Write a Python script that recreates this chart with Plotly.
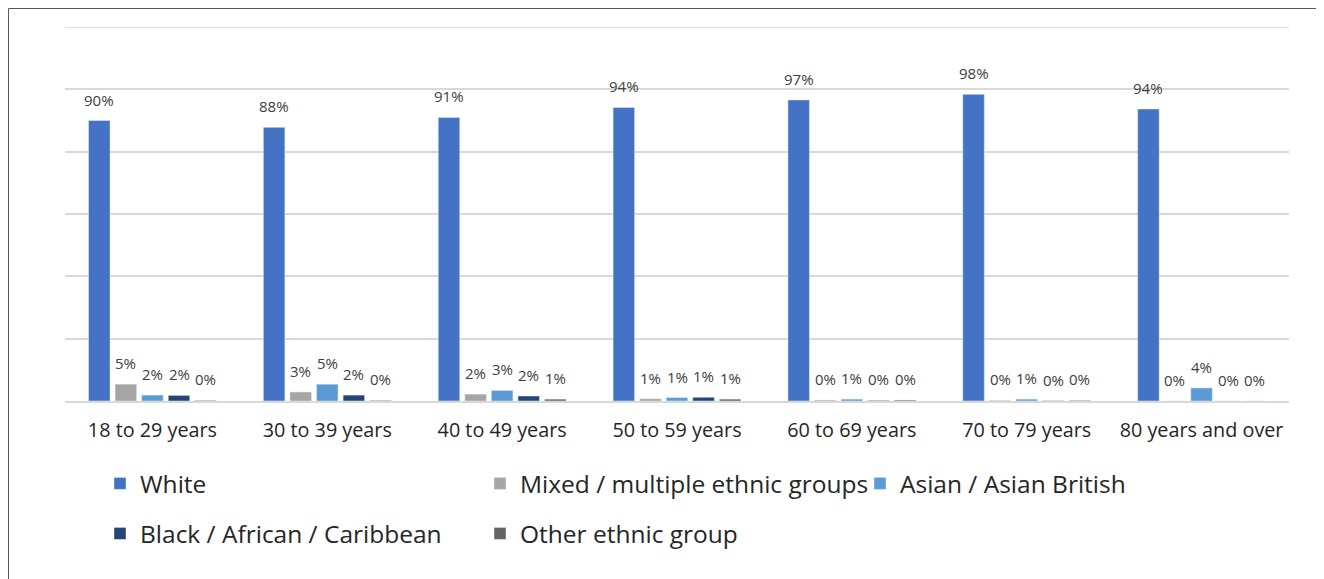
import plotly.graph_objects as go

categories = ["18 to 29 years", "30 to 39 years", "40 to 49 years", "50 to 59 years",
              "60 to 69 years", "70 to 79 years", "80 years and over"]
white = [0.900, 0.878, 0.910, 0.942, 0.966, 0.984, 0.937]
mixed = [0.054, 0.029, 0.022, 0.007, 0.003, 0.002, 0.000]
asian = [0.019, 0.054, 0.034, 0.011, 0.006, 0.006, 0.042]
black = [0.018, 0.019, 0.016, 0.012, 0.002, 0.001, 0.000]
other = [0.002, 0.002, 0.006, 0.006, 0.003, 0.002, 0.000]
y_max = 1.2
y_step = 0.2

series = [
    ("White", white, "#4472C4", "legend"),
    ("Mixed / multiple ethnic groups", mixed, "#A5A5A5", "legend"),
    ("Asian / Asian British", asian, "#5B9BD5", "legend"),
    ("Black / African / Caribbean", black, "#264478", "legend2"),
    ("Other ethnic group", other, "#636363", "legend2"),
]

FONT = "Open Sans"
OFF = 8  # default page body margin
W, H = 1316, 571
ML, MR, MT, MB = 57, 35, 19, 178
BARGAP = 0.24
n = len(series)
slot = (1 - BARGAP) / n
GRID = "#D9D9D9"
FRAME = "#595959"

fig = go.Figure()
annotations = []
for i, (name, vals, color, lg) in enumerate(series):
    fig.add_trace(go.Bar(x=categories, y=vals, name=name, marker_color=color,
                         legend=lg, hoverinfo="skip"))
    for j, v in enumerate(vals):
        annotations.append(dict(
            x=j + (i - (n - 1) / 2) * slot, y=v, xref="x", yref="y",
            text=f"{v:.0%}", showarrow=False, yanchor="middle", yshift=21,
            font=dict(family=FONT, size=15, color="#404040")))

pw = W - ML - MR
ph = H - MT - MB
def px_x(p):  # page pixel -> paper
    return (p - OFF - ML) / pw
def px_y(p):
    return (H - MB - (p - OFF)) / ph

legend_common = dict(orientation="h", xanchor="left", yanchor="top",
                     entrywidth=335, entrywidthmode="pixels",
                     font=dict(family=FONT, size=24.5, color="#262626"),
                     bgcolor="rgba(0,0,0,0)")

fig.update_layout(
    width=W, height=H,
    margin=dict(l=ML, r=MR, t=MT, b=MB, autoexpand=False),
    paper_bgcolor="white", plot_bgcolor="white",
    barmode="group", bargap=BARGAP, bargroupgap=0.19,
    font=dict(family=FONT, color="#262626"),
    xaxis=dict(showgrid=False, showline=True, linecolor=GRID, linewidth=1.5,
               ticks="", ticklabelstandoff=10,
               tickfont=dict(size=19.8, color="#262626"), fixedrange=True),
    yaxis=dict(range=[0, y_max], tick0=0, dtick=y_step, showgrid=True, gridcolor=GRID,
               gridwidth=1.5, showticklabels=False, zeroline=False, ticks="",
               fixedrange=True),
    legend=dict(x=px_x(100), y=px_y(461), **legend_common),
    legend2=dict(x=px_x(100), y=px_y(511), **legend_common),
    annotations=annotations,
    shapes=[
        dict(type="line", xref="paper", yref="y", x0=0, x1=1, y0=y_max, y1=y_max,
             line=dict(color=GRID, width=1.5), layer="below"),
        dict(type="line", xref="paper", yref="paper",
             x0=px_x(8.5), x1=px_x(1330), y0=px_y(8.5), y1=px_y(8.5),
             line=dict(color=FRAME, width=1)),
        dict(type="line", xref="paper", yref="paper",
             x0=px_x(8.5), x1=px_x(8.5), y0=px_y(8.5), y1=px_y(590),
             line=dict(color=FRAME, width=1)),
    ],
    showlegend=True,
)

fig.write_html("out.html")
